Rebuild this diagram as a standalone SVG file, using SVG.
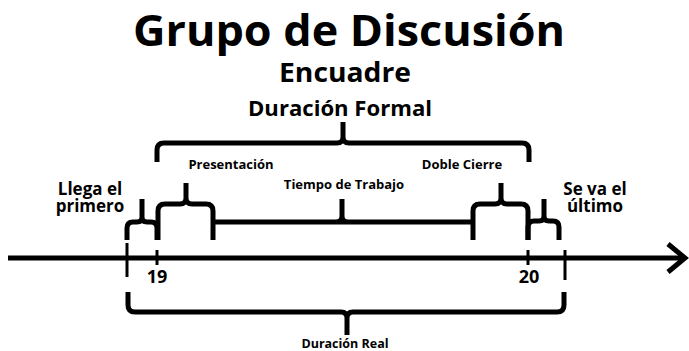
<svg xmlns="http://www.w3.org/2000/svg" width="689" height="351" viewBox="0 0 689 351">
<style>
text{font-family:"Open Sans","DejaVu Sans",sans-serif;font-weight:bold;fill:#000;text-anchor:middle}
.br{fill:none;stroke:#000;stroke-width:5;stroke-linejoin:round}
.tick{stroke:#000;stroke-width:3}
</style>
<rect width="689" height="351" fill="#fff"/>
<g id="title">
<text x="349" y="46" font-size="43" textLength="432" lengthAdjust="spacingAndGlyphs">Grupo de Discusión</text>
<text x="345" y="82" font-size="26" textLength="132" lengthAdjust="spacingAndGlyphs">Encuadre</text>
</g>
<g id="axis">
<path d="M8,258 H684" stroke="#000" stroke-width="5" fill="none"/>
<path d="M668,244 L685,258 L668,272" stroke="#000" stroke-width="5" fill="none"/>
<line class="tick" x1="127" y1="243" x2="127" y2="277"/>
<line class="tick" x1="157" y1="250" x2="157" y2="265"/>
<line class="tick" x1="528" y1="250" x2="528" y2="265"/>
<line class="tick" x1="565" y1="250" x2="565" y2="280"/>
<text x="157" y="283" font-size="18">19</text>
<text x="529" y="283" font-size="18">20</text>
</g>
<g id="connectors">
<path class="br" d="M157,162 V150 Q157,143 164,143 H337 Q343,143 343,137 V122 M343,137 Q343,143 349,143 H522 Q529,143 529,150 V162"/>
<path class="br" d="M127,240 V228 Q127,222 133,222 H137 Q142,222 142,217 V199 M142,217 Q142,222 147,222 H151 Q157,222 157,228 V240"/>
<path class="br" d="M158,240 V211 Q158,204 165,204 H180 Q186,204 186,198 V183 M186,198 Q186,204 192,204 H206 Q213,204 213,211 V240"/>
<path class="br" d="M213,222 H473 M336,222 Q342,222 342,216 V199 M342,216 Q342,222 348,222"/>
<path class="br" d="M473,240 V211 Q473,204 480,204 H495 Q501,204 501,198 V183 M501,198 Q501,204 507,204 H521 Q528,204 528,211 V240"/>
<path class="br" d="M528,240 V227 Q528,221 534,221 H539 Q544,221 544,216 V199 M544,216 Q544,221 549,221 H553 Q559,221 559,227 V240"/>
<path class="br" d="M128,292 V305 Q128,312 135,312 H341 Q347,312 347,318 V335 M347,318 Q347,312 353,312 H557 Q564,312 564,305 V292"/>
</g>
<g id="formal"><text x="340" y="116" font-size="21" textLength="184" lengthAdjust="spacingAndGlyphs">Duración Formal</text></g>
<g id="presentacion"><text x="231" y="169" font-size="13">Presentación</text></g>
<g id="tiempo"><text x="344" y="189" font-size="13">Tiempo de Trabajo</text></g>
<g id="doble"><text x="462" y="169" font-size="13">Doble Cierre</text></g>
<g id="llega"><text x="90" y="195" font-size="17">Llega el</text><text x="90" y="212" font-size="17">primero</text></g>
<g id="seva"><text x="595" y="195" font-size="17">Se va el</text><text x="595" y="212" font-size="17">último</text></g>
<g id="real"><text x="345" y="348" font-size="12.5">Duración Real</text></g>
</svg>
